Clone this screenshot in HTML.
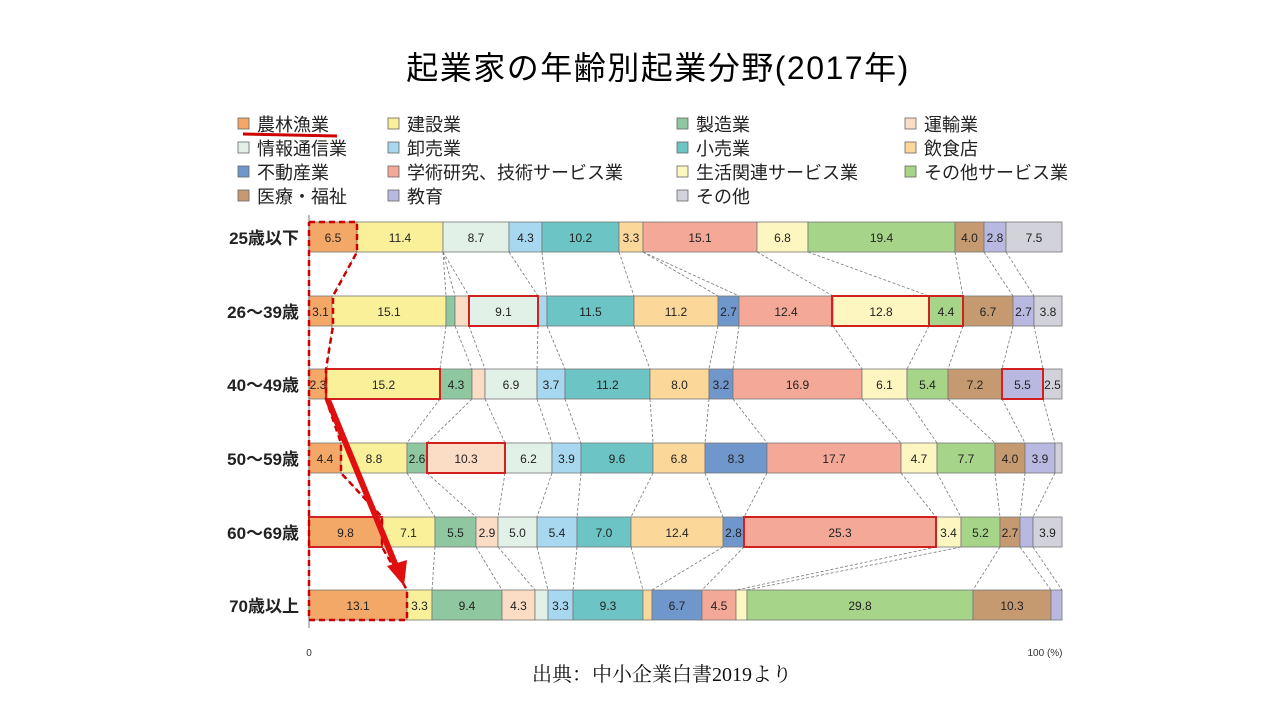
<!DOCTYPE html>
<html><head><meta charset="utf-8">
<style>
body{margin:0;background:#fff;width:1280px;height:720px;overflow:hidden;font-family:"Liberation Sans","Noto Sans CJK JP",sans-serif;}
svg{position:absolute;left:0;top:0}
</style></head><body>
<svg id="s" width="1280" height="720" xmlns="http://www.w3.org/2000/svg"></svg>
<script>
const C={a:'#f4a868',b:'#fbf09a',c:'#8fc7a0',d:'#fbdcc4',e:'#e2f1e8',f:'#a8d8f0',g:'#6cc4c4',h:'#fbd89a',i:'#6f97cc',j:'#f4a898',k:'#fdf6c0',l:'#a6d488',m:'#c69a70',n:'#b8b8e0',o:'#d2d2da'};
const keys='abcdefghijklmno';
const rows=[
{y:222,lab:'25歳以下',b:[357,443,443,443,509,542,619,643,643,757,808,955,984,1006,1062],t:['6.5','11.4','','','8.7','4.3','10.2','3.3','','15.1','6.8','19.4','4.0','2.8','7.5']},
{y:296,lab:'26～39歳',b:[332,446,455,469,538,547,634,718,739,833,929,963,1013,1034,1062],t:['3.1','15.1','','','9.1','','11.5','11.2','2.7','12.4','12.8','4.4','6.7','2.7','3.8']},
{y:369,lab:'40～49歳',b:[327,440,472,485,537,565,650,709,733,862,907,948,1002,1043,1062],t:['2.3','15.2','4.3','','6.9','3.7','11.2','8.0','3.2','16.9','6.1','5.4','7.2','5.5','2.5']},
{y:443,lab:'50～59歳',b:[341,407,427,505,552,581,653,705,767,901,937,995,1025,1055,1062],t:['4.4','8.8','2.6','10.3','6.2','3.9','9.6','6.8','8.3','17.7','4.7','7.7','4.0','3.9','']},
{y:517,lab:'60～69歳',b:[382,435,476,498,537,577,631,723,744,936,961,1000,1020,1033,1062],t:['9.8','7.1','5.5','2.9','5.0','5.4','7.0','12.4','2.8','25.3','3.4','5.2','2.7','','3.9']},
{y:590,lab:'70歳以上',b:[407,432,502,535,548,573,643,652,702,736,747,973,1051,1062,1062],t:['13.1','3.3','9.4','4.3','','3.3','9.3','','6.7','4.5','','29.8','10.3','','']}
];
let h='';
h+='<text x="658" y="79" font-size="32" text-anchor="middle" letter-spacing="1.5" font-family="Liberation Sans, Noto Sans CJK JP, sans-serif" font-weight="normal">起業家の年齢別起業分野(2017年)</text>';
const lg=[[238,124,'a','農林漁業'],[388,124,'b','建設業'],[677,124,'c','製造業'],[905,124,'d','運輸業'],
[238,148,'e','情報通信業'],[388,148,'f','卸売業'],[677,148,'g','小売業'],[905,148,'h','飲食店'],
[238,172,'i','不動産業'],[388,172,'j','学術研究、技術サービス業'],[677,172,'k','生活関連サービス業'],[905,172,'l','その他サービス業'],
[238,196,'m','医療・福祉'],[388,196,'n','教育'],[677,196,'o','その他']];
for(const [x,y,k,t] of lg){h+=`<rect x="${x}" y="${y-6}" width="11" height="11" fill="${C[k]}" stroke="#666" stroke-width="0.8"/><text x="${x+19}" y="${y+7}" font-size="18" fill="#222">${t}</text>`;}
h+='<line x1="243" y1="134" x2="337" y2="136" stroke="#c00" stroke-width="3"/>';
for(let r=0;r<5;r++){const a=rows[r],b=rows[r+1];for(let i=0;i<14;i++){h+=`<line x1="${a.b[i]}" y1="${a.y+30}" x2="${b.b[i]}" y2="${b.y}" stroke="#777" stroke-width="0.8" stroke-dasharray="3,2"/>`;}}
h+='<line x1="309" y1="215" x2="309" y2="628" stroke="#aaa" stroke-width="1.5"/>';
for(const r of rows){let x0=309;r.b.forEach((x1,i)=>{if(x1>x0){h+=`<rect x="${x0}" y="${r.y}" width="${x1-x0}" height="30" fill="${C[keys[i]]}" stroke="#777" stroke-width="0.8"/>`;if(r.t[i])h+=`<text x="${(x0+x1)/2}" y="${r.y+20}" font-size="12" text-anchor="middle" fill="#222">${r.t[i]}</text>`;}x0=x1;});
h+=`<text x="299" y="${r.y+22}" font-size="17" font-weight="bold" text-anchor="end" fill="#222">${r.lab}</text>`;}
const rb=[[469,296,538],[832,296,929],[929,296,963],[326,369,440],[1002,369,1043],[427,443,505],[309,517,382],[744,517,936]];
for(const [a,y,b] of rb)h+=`<rect x="${a}" y="${y}" width="${b-a}" height="30" fill="none" stroke="#d02020" stroke-width="2"/>`;
h+='<polyline points="309,222 357,222 357,252 333,296 333,326 326,369 326,399 341,443 341,473 382,517 382,547 407,590 407,620 309,620 309,222" fill="none" stroke="#c00" stroke-width="2.5" stroke-dasharray="6,4"/>';
h+='<line x1="328" y1="400" x2="396" y2="566" stroke="#e01010" stroke-width="6"/><polygon points="404,586 387,566 407,560" fill="#e01010"/>';
h+='<text x="309" y="656" font-size="10" text-anchor="middle" fill="#333">0</text><text x="1045" y="656" font-size="10" text-anchor="middle" fill="#333">100 (%)</text>';
h+='<text x="662" y="681" font-size="20" text-anchor="middle" font-family="Liberation Serif, Noto Serif CJK SC, serif" fill="#111">出典：中小企業白書2019より</text>';
document.getElementById('s').innerHTML=h;
</script>
</body></html>
